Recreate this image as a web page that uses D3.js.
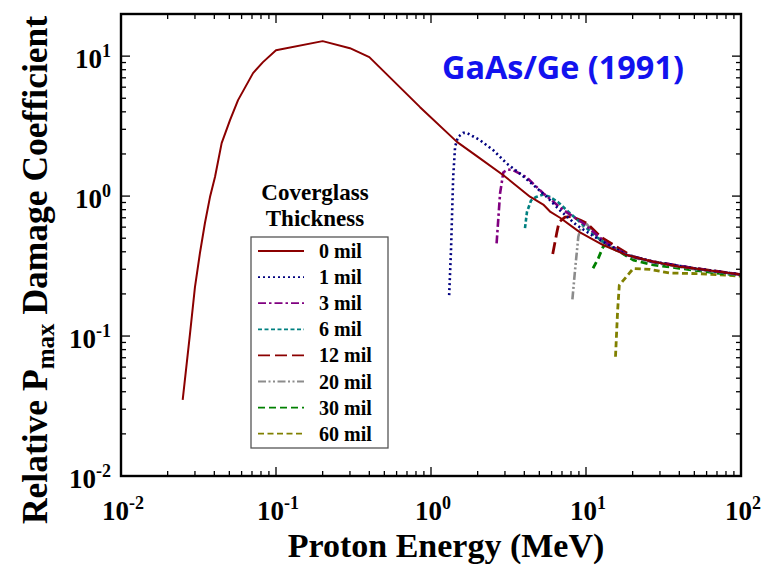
<!DOCTYPE html>
<html>
<head>
<meta charset="utf-8">
<script src="https://cdn.jsdelivr.net/npm/d3@7"></script>
<style>
  html, body { margin: 0; padding: 0; background: #fff; }
  svg { display: block; }
</style>
</head>
<body>
<svg id="chart" width="781" height="565"></svg>
<script>
// ---------------- data (energy MeV, relative damage coefficient) ----------------
const mil0  = [[0.025,0.035],[0.0279,0.105],[0.030,0.224],[0.0323,0.391],[0.0348,0.642],[0.0375,0.984],[0.0404,1.37],[0.0446,2.39],[0.0505,3.49],[0.0569,4.85],[0.0711,7.56],[0.0824,9.06],[0.1,11.0],[0.2,12.8],[0.3,11.4],[0.4,9.84],[0.85,4.32],[1.47,2.44],[2.07,1.86],[2.93,1.41],[4.35,0.99],[5.3,0.87],[5.9,0.77],[6.8,0.70],[9.15,0.55],[12.9,0.447],[18.3,0.379],[27.2,0.34],[40,0.313],[49,0.305],[100,0.275]];
const mil1  = [[1.31,0.196],[1.346,0.41],[1.39,1.37],[1.43,2.25],[1.49,2.64],[1.615,2.83],[1.70,2.83],[2.07,2.51],[2.52,2.13],[3.08,1.71],[3.75,1.45],[4.57,1.2],[5.57,0.99],[6.8,0.79],[8.7,0.62],[11.1,0.52],[13.6,0.455],[18.3,0.38],[27,0.34],[50,0.305],[100,0.275]];
const mil3  = [[2.65,0.46],[2.79,1.045],[2.93,1.48],[3.14,1.55],[3.4,1.53],[4.14,1.36],[5.31,1.045],[7.14,0.794],[9.6,0.64],[11.7,0.53],[13.6,0.46],[18.3,0.38],[27,0.34],[50,0.305],[100,0.275]];
const mil6  = [[4.04,0.59],[4.16,0.77],[4.42,0.93],[4.75,0.984],[5.31,1.026],[5.86,0.985],[6.6,0.906],[7.69,0.773],[9.6,0.621],[11.7,0.51],[13.6,0.455],[18.3,0.38],[27,0.338],[50,0.303],[100,0.274]];
const mil12 = [[6.1,0.385],[6.47,0.542],[6.7,0.652],[7.32,0.708],[8.09,0.713],[9.15,0.674],[10.1,0.64],[12.6,0.505],[15.7,0.435],[20,0.37],[27,0.34],[50,0.305],[100,0.275]];
const mil20 = [[8.17,0.183],[8.5,0.296],[8.92,0.512],[9.22,0.59],[10.1,0.631],[11.4,0.54],[12.6,0.472],[14.9,0.42],[20,0.365],[27,0.335],[50,0.3],[100,0.273]];
const mil30 = [[11.1,0.305],[12.0,0.359],[12.9,0.435],[13.6,0.447],[16.5,0.4],[20.2,0.349],[27.2,0.322],[40,0.305],[73,0.28],[100,0.273]];
const mil60 = [[15.5,0.0711],[16.0,0.153],[16.4,0.231],[20.2,0.304],[25.9,0.299],[34.8,0.282],[54.3,0.279],[100,0.268]];

const seriesNames = ["0 mil","1 mil","3 mil","6 mil","12 mil","20 mil","30 mil","60 mil"];
const seriesData  = [mil0, mil1, mil3, mil6, mil12, mil20, mil30, mil60];

const xTickExps = [-2,-1,0,1,2];
const yTickExps = [-2,-1,0,1];
const legendTitle = ["Coverglass","Thickness"];
const chartTitle = "GaAs/Ge (1991)";
const xTitle = "Proton Energy (MeV)";
const yTitleParts = ["Relative P", "max", " Damage Coefficient"];

// ---------------- styles ----------------
const styles = [
  {color:"#8b0000", dash:null,              w:2.0, lw:2.0},
  {color:"#000080", dash:"2,3",             w:2.6, lw:1.8},
  {color:"#800080", dash:"8,3,2.5,3",       w:2.6, lw:1.8},
  {color:"#008080", dash:"4,2.5",           w:2.6, lw:1.8},
  {color:"#8b0000", dash:"12,5",            w:2.8, lw:1.8},
  {color:"#8c8c8c", dash:"8,2.5,2,2.5,2,2.5", w:2.6, lw:1.8},
  {color:"#008000", dash:"7,4",             w:2.8, lw:1.8},
  {color:"#808000", dash:"6,3.5",           w:2.8, lw:1.8}
];

const L = 121, R = 741, T = 14, B = 476;
const svg = d3.select("#chart");
const x = d3.scaleLog().domain([0.01, 100]).range([L, R]);
const y = d3.scaleLog().domain([0.01, 20]).range([B, T]);

const serif = "'Liberation Serif','Times New Roman',serif";

// ---------------- curves ----------------
const line = d3.line().x(d => x(d[0])).y(d => y(d[1])).curve(d3.curveLinear);
const order = [7,6,5,4,3,2,1,0];
svg.append("g").selectAll("path").data(order).join("path")
  .attr("d", i => line(seriesData[i]))
  .attr("fill","none")
  .attr("stroke", i => styles[i].color)
  .attr("stroke-width", i => styles[i].w)
  .attr("stroke-dasharray", i => styles[i].dash)
  .attr("stroke-linejoin","round");

// ---------------- frame & ticks ----------------
const g = svg.append("g");
const xt = x.ticks().filter(v => v >= 0.01 && v <= 100);
const yt = y.ticks().filter(v => v >= 0.01 && v <= 20);
const isMajor = v => Math.abs(Math.log10(v) - Math.round(Math.log10(v))) < 1e-9;
const MAJ = 9, MIN = 5;
xt.forEach(v => {
  const len = isMajor(v) ? MAJ : MIN;
  g.append("line").attr("x1", x(v)).attr("x2", x(v)).attr("y1", B).attr("y2", B - len);
  g.append("line").attr("x1", x(v)).attr("x2", x(v)).attr("y1", T).attr("y2", T + len);
});
yt.forEach(v => {
  const len = isMajor(v) ? MAJ : MIN;
  g.append("line").attr("y1", y(v)).attr("y2", y(v)).attr("x1", L).attr("x2", L + len);
  g.append("line").attr("y1", y(v)).attr("y2", y(v)).attr("x1", R).attr("x2", R - len);
});
g.selectAll("line").attr("stroke","#000").attr("stroke-width",1.3);
g.append("rect").attr("x",L).attr("y",T).attr("width",R-L).attr("height",B-T)
  .attr("fill","none").attr("stroke","#000").attr("stroke-width",2.4);

// ---------------- tick labels ----------------
function powLabel(sel, e, anchor) {
  const t = sel.append("text")
    .attr("font-family", serif).attr("font-weight","bold")
    .attr("font-size", 27).attr("text-anchor", anchor).attr("fill","#000");
  t.append("tspan").text("10");
  t.append("tspan").attr("font-size", 18).attr("dy", -11).text(e < 0 ? "-" + (-e) : String(e));
  return t;
}
xTickExps.forEach(e => {
  powLabel(svg, e, "middle").attr("x", x(Math.pow(10, e)) + 2).attr("y", 520);
});
yTickExps.forEach(e => {
  powLabel(svg, e, "end").attr("x", 111).attr("y", y(Math.pow(10, e)) + 12);
});

// ---------------- axis titles ----------------
svg.append("text").attr("x", 446).attr("y", 557)
  .attr("font-family", serif).attr("font-weight","bold").attr("font-size", 34)
  .attr("text-anchor","middle").text(xTitle);

const yt2 = svg.append("text")
  .attr("transform", "translate(47,270) rotate(-90)")
  .attr("font-family", serif).attr("font-weight","bold").attr("font-size", 35.5)
  .attr("text-anchor","middle");
yt2.append("tspan").text(yTitleParts[0]);
yt2.append("tspan").attr("font-size", 25).attr("dy", 7).text(yTitleParts[1]);
yt2.append("tspan").attr("dy", -7).text(yTitleParts[2]);

// ---------------- chart title ----------------
const ttl = svg.append("text").attr("x", 442).attr("y", 79)
  .attr("font-family","'Open Sans','Noto Sans',sans-serif").attr("font-weight","bold")
  .attr("font-size", 30).attr("fill","#1212ee").text(chartTitle);
const tw = ttl.node().getComputedTextLength();
ttl.attr("font-size", 30 * 242 / tw);

// ---------------- legend ----------------
svg.append("text").attr("x",315).attr("y",200).attr("text-anchor","middle")
  .attr("font-family", serif).attr("font-weight","bold").attr("font-size",23).text(legendTitle[0]);
svg.append("text").attr("x",315).attr("y",226).attr("text-anchor","middle")
  .attr("font-family", serif).attr("font-weight","bold").attr("font-size",23).text(legendTitle[1]);
svg.append("rect").attr("x",251).attr("y",237).attr("width",137).attr("height",211)
  .attr("fill","#fff").attr("stroke","#555").attr("stroke-width",1.3);
const lg = svg.append("g");
seriesNames.forEach((name, i) => {
  const yy = 251 + i * 26.1;
  lg.append("line").attr("x1",258).attr("x2",304).attr("y1",yy).attr("y2",yy)
    .attr("stroke", styles[i].color).attr("stroke-width", styles[i].lw)
    .attr("stroke-dasharray", styles[i].dash);
  lg.append("text").attr("x",319).attr("y",yy + 7)
    .attr("font-family", serif).attr("font-weight","bold").attr("font-size",20)
    .text(name);
});
</script>
</body>
</html>
